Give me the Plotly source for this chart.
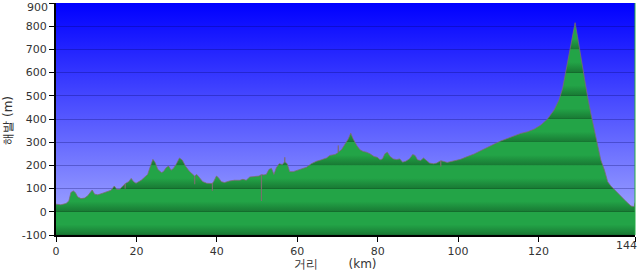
import base64
import plotly.graph_objects as go

distance_km = [0, 1.2, 2.5, 3.2, 3.7, 4.3, 4.8, 5.4, 6.2, 7.1, 7.9, 8.6, 9.0, 9.6, 10.4, 11.6, 12.9, 13.7,
               14.5, 15.1, 15.8, 16.6, 17.15, 17.2, 17.25, 18.1, 18.7, 19.3, 19.9, 21.2, 22.0, 22.8, 23.5,
               24.1, 24.7, 25.3, 26.2, 26.7, 27.4, 28.0, 28.6, 29.2, 29.9, 30.7, 31.4, 32.2, 33.1, 33.9,
               34.45, 34.5, 34.55, 35.0, 35.7, 36.5, 37.5, 38.5, 38.85, 38.9, 38.95, 39.2, 39.9, 40.4, 41.1,
               41.9, 43.2, 44.4, 45.7, 46.5, 47.3, 48.2, 49.4, 50.5, 51.05, 51.1, 51.15, 51.7, 52.3, 53.0,
               53.6, 54.2, 54.8, 55.5, 56.3, 56.85, 56.9, 56.95, 57.5, 58.1, 59.0, 59.8, 61.0, 62.3, 63.5,
               64.8, 66.0, 67.3, 68.1, 69.4, 70.15, 70.2, 70.25, 71.0, 71.8, 72.7, 73.3, 73.9, 74.8, 75.6,
               76.4, 77.2, 78.1, 79.1, 79.9, 80.6, 81.2, 81.8, 82.4, 83.1, 83.9, 84.7, 85.5, 86.2, 87.0,
               87.9, 88.7, 89.3, 89.9, 90.7, 91.4, 92.0, 92.9, 93.9, 94.7, 95.65, 95.7, 95.75, 97.3, 99.0,
               100.6, 102.3, 104.0, 105.6, 107.3, 108.9, 110.6, 112.3, 113.9, 115.6, 117.3, 118.9, 120.6,
               122.2, 123.9, 125.1, 126.0, 126.8, 127.6, 128.5, 129.1, 129.7, 130.5, 131.4, 132.2, 133.0,
               133.9, 134.7, 135.5, 136.4, 137.2, 138.0, 139.3, 140.5, 141.8, 143.0, 143.8, 144.0]
elevation_m = [33, 30, 36, 47, 83, 90, 83, 64, 57, 59, 69, 83, 94, 76, 73, 80, 86, 93,
               111, 97, 97, 111, 120, 100, 122, 130, 144, 130, 123, 136, 147, 161, 197,
               226, 211, 183, 169, 173, 190, 197, 179, 187, 205, 232, 223, 197, 176, 161,
               154, 119, 155, 161, 147, 130, 123, 121, 122, 90, 124, 130, 154, 147, 130,
               126, 133, 136, 136, 140, 136, 150, 151, 154, 160, 47, 160, 159, 161, 183,
               187, 161, 190, 207, 204, 215, 235, 215, 207, 173, 173, 177, 185, 192, 207,
               218, 224, 232, 243, 247, 255, 286, 258, 267, 290, 314, 339, 314, 286, 267,
               260, 257, 250, 238, 235, 224, 228, 250, 257, 238, 228, 225, 228, 214, 218,
               228, 247, 243, 224, 221, 232, 224, 210, 207, 210, 220, 195, 220, 213, 219,
               226, 238, 249, 263, 276, 291, 305, 317, 327, 338, 345, 356, 374,
               399, 439, 482, 532, 604, 683, 755, 815, 755, 669, 575, 496, 425,
               353, 281, 223, 180, 130, 111, 87, 65, 44, 25, 22, 40]

x_ticks = [0, 20, 40, 60, 80, 100, 120, 144]
x_tick_labels = ["0", "20", "40", "60", "80", "100", "120", ""]
x_end_label = "144"
y_ticks = [-100, 0, 100, 200, 300, 400, 500, 600, 700, 800, 900]
y_tick_labels = ["-100", "0", "100", "200", "300", "400", "500", "600", "700", "800", ""]
y_top_label = "900"
y_min, y_max = -100, 900
x_title = "거리" + "\u00a0" * 8 + "(km)"
y_title = "해발 (m)"

# banded green colorscale (one band per 100 m)
dark_line = "#13672b"
dark = "#197c35"
light = "#23a447"
nb = 10
green_scale = []
for k in range(nb):
    p0 = k / nb
    p1 = (k + 1) / nb
    green_scale.append([p0 + (0.0 if k == 0 else 0.0005), dark_line])
    green_scale.append([p0 + 0.004, dark])
    green_scale.append([p0 + 0.045, light])
    green_scale.append([p1 - 0.0006, light])
green_scale[-1][0] = 1.0

# blue gradient background image
svg = ('<svg xmlns="http://www.w3.org/2000/svg" width="10" height="100" preserveAspectRatio="none">'
       '<defs><linearGradient id="g" x1="0" y1="0" x2="0" y2="1">'
       '<stop offset="0" stop-color="#0000ff"/><stop offset="1" stop-color="#abb1ff"/>'
       '</linearGradient></defs><rect width="10" height="100" fill="url(#g)"/></svg>')
bg_src = "data:image/svg+xml;base64," + base64.b64encode(svg.encode()).decode()

fig = go.Figure()
fig.add_trace(go.Scatter(x=[distance_km[0], distance_km[-1]], y=[y_min, y_min], mode="lines",
                         line=dict(width=0), hoverinfo="skip", showlegend=False))
fig.add_trace(go.Scatter(x=distance_km, y=elevation_m, mode="lines", fill="tonexty",
                         fillgradient=dict(type="vertical", colorscale=green_scale,
                                           start=y_min, stop=y_max),
                         line=dict(color="rgba(125,108,108,0.75)", width=1),
                         showlegend=False))

fig.update_layout(
    width=640, height=271,
    margin=dict(l=56, r=5, t=3, b=36, autoexpand=False),
    paper_bgcolor="white", plot_bgcolor="white",
    font=dict(family="DejaVu Sans", size=11, color="#333333"),
    images=[dict(source=bg_src, xref="paper", yref="paper", x=0, y=1, sizex=1, sizey=1,
                 sizing="stretch", xanchor="left", yanchor="top", layer="below")],
    xaxis=dict(range=[0, 144], tickvals=x_ticks, ticktext=x_tick_labels, ticks="outside",
               ticklen=5, tickwidth=1, automargin=False,
               tickcolor="black", showline=True, linecolor="black", linewidth=2,
               showgrid=False, zeroline=False, tickfont=dict(size=11, color="#333")),
    yaxis=dict(range=[y_min, y_max], tickvals=y_ticks, ticktext=y_tick_labels,
               ticks="outside", ticklen=5, tickwidth=1, automargin=False,
               tickcolor="black", showline=True, linecolor="black", linewidth=2,
               showgrid=True, gridcolor="rgba(0,0,90,0.28)", gridwidth=1, zeroline=False,
               tickfont=dict(size=11, color="#333")),
    shapes=[dict(type="line", xref="paper", yref="paper", x0=1, x1=1, y0=0, y1=1,
                 line=dict(color="#22aa44", width=1))],
    annotations=[
        dict(text=x_end_label, xref="x", yref="paper", x=x_ticks[-1], y=-0.047, showarrow=False,
             xanchor="right", yanchor="middle", xshift=3, borderpad=0,
             font=dict(size=11, color="#333")),
        dict(text=y_top_label, xref="paper", yref="y", x=0, y=y_ticks[-1], showarrow=False,
             xanchor="right", yanchor="top", xshift=-7, yshift=3, borderpad=0,
             font=dict(size=11, color="#333")),
        dict(text=x_title, xref="paper", yref="paper", x=0.483, y=-0.125, showarrow=False,
             xanchor="center", yanchor="middle", borderpad=0, font=dict(size=12, color="#333")),
        dict(text=y_title, xref="paper", yref="paper", x=-0.083, y=0.496, showarrow=False,
             textangle=-90, xanchor="center", yanchor="middle", font=dict(size=12, color="#333")),
    ],
)

fig.write_html("out.html")
